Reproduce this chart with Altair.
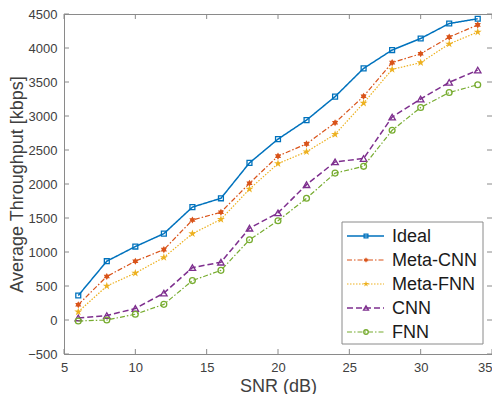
import altair as alt
import pandas as pd

# ---------------- data ----------------
snr = [6, 8, 10, 12, 14, 16, 18, 20, 22, 24, 26, 28, 30, 32, 34]
ideal = [360, 865, 1080, 1270, 1660, 1790, 2310, 2660, 2940, 3285, 3700, 3970, 4140, 4360, 4430]
meta_cnn = [225, 640, 865, 1035, 1470, 1585, 2010, 2410, 2590, 2900, 3290, 3785, 3915, 4160, 4340]
meta_fnn = [120, 500, 690, 920, 1270, 1480, 1925, 2300, 2475, 2730, 3190, 3685, 3785, 4060, 4235]
cnn = [30, 65, 170, 395, 770, 850, 1350, 1575, 1990, 2325, 2375, 2985, 3250, 3495, 3675]
fnn = [-15, 0, 85, 230, 580, 730, 1180, 1460, 1790, 2160, 2260, 2790, 3125, 3345, 3460]

series_names = ["Ideal", "Meta-CNN", "Meta-FNN", "CNN", "FNN"]
series_values = [ideal, meta_cnn, meta_fnn, cnn, fnn]

x_ticks = [5, 10, 15, 20, 25, 30, 35]
y_ticks = [-500, 0, 500, 1000, 1500, 2000, 2500, 3000, 3500, 4000, 4500]
x_title = "SNR (dB)"
y_title = "Average Throughput [kbps]"

# ---------------- styles ----------------
W, H = 428, 340
AX = "#8a8a8a"
TXT = "#404040"
FONT = "Liberation Sans"

PENTA = ("M0,-1 L0.225,-0.309 L0.951,-0.309 L0.363,0.118 L0.588,0.809 L0,0.382 "
         "L-0.588,0.809 L-0.363,0.118 L-0.951,-0.309 L-0.225,-0.309 Z")
HEXA = ("M0,-1 L0.289,-0.5 L0.866,-0.5 L0.577,0 L0.866,0.5 L0.289,0.5 L0,1 "
        "L-0.289,0.5 L-0.866,0.5 L-0.577,0 L-0.866,-0.5 L-0.289,-0.5 Z")

styles = {
    "Ideal":    dict(color="#0072BD", dash=[1, 0], shape="square", size=24, filled=False, lw=1.5),
    "Meta-CNN": dict(color="#D95319", dash=[5, 2, 1.5, 2], shape=HEXA, size=50, filled=True, lw=1.2),
    "Meta-FNN": dict(color="#EDB120", dash=[1.5, 1.5], shape=PENTA, size=70, filled=True, lw=1.2),
    "CNN":      dict(color="#7E2F8E", dash=[6, 3], shape="triangle-up", size=42, filled=False, lw=1.5),
    "FNN":      dict(color="#77AC30", dash=[5, 2, 1.5, 2], shape="circle", size=34, filled=False, lw=1.2),
}

xscale = alt.Scale(domain=[5, 35], nice=False)
yscale = alt.Scale(domain=[-500, 4500], nice=False)

X_AX = alt.Axis(values=x_ticks, tickSize=0, labelPadding=7, titlePadding=3,
                format="d", labelOverlap=False,
                labelAlign={"condition": {"test": "datum.value >= 35", "value": "right"},
                            "value": "center"},
                domainColor=AX, labelColor=TXT, titleColor=TXT,
                labelFontSize=13, titleFontSize=18, labelFont=FONT, titleFont=FONT,
                titleFontWeight="normal", grid=False, labelFlush=False)
Y_AX = alt.Axis(values=y_ticks, tickSize=0, labelPadding=7, titlePadding=1,
                format="d", labelOverlap=False,
                domainColor=AX, labelColor=TXT, titleColor=TXT,
                labelFontSize=13, titleFontSize=18, labelFont=FONT, titleFont=FONT,
                titleFontWeight="normal", grid=False, labelFlush=False)


def X(field):
    return alt.X(field, scale=xscale, axis=X_AX, title=x_title)


def Y(field):
    return alt.Y(field, scale=yscale, axis=Y_AX, title=y_title)


layers = []
xt = pd.DataFrame({"x": x_ticks})
yt = pd.DataFrame({"y": y_ticks})

# inward ticks
for y0, y1 in [(H, H - 5), (0, 5)]:
    layers.append(alt.Chart(xt).mark_rule(color=AX, strokeWidth=1).encode(
        x=X("x:Q"), y=alt.value(y0), y2=alt.value(y1)))
for x0, x1 in [(0, 5), (W, W - 5)]:
    layers.append(alt.Chart(yt).mark_rule(color=AX, strokeWidth=1).encode(
        y=Y("y:Q"), x=alt.value(x0), x2=alt.value(x1)))

for name, vals in zip(series_names, series_values):
    st = styles[name]
    df = pd.DataFrame({"snr": snr, "thr": vals})
    enc = dict(x=X("snr:Q"), y=Y("thr:Q"))
    layers.append(alt.Chart(df).mark_line(color=st["color"], strokeDash=st["dash"],
                                          strokeWidth=st["lw"]).encode(**enc))
    layers.append(alt.Chart(df).mark_point(shape=st["shape"], size=st["size"],
                                           filled=st["filled"], color=st["color"],
                                           strokeWidth=1.3, opacity=1).encode(**enc))

# legend (manual, MATLAB style)
LX0, LX1, LY0, LY1 = 278, 419, 208, 330
layers.append(alt.Chart(pd.DataFrame({"a": [0]})).mark_rect(
    fill="white", stroke=AX, strokeWidth=1).encode(
    x=alt.value(LX0), x2=alt.value(LX1), y=alt.value(LY0), y2=alt.value(LY1)))
row_y = [222, 246, 270, 294, 318]
for name, ry in zip(series_names, row_y):
    st = styles[name]
    d1 = pd.DataFrame({"name": [name]})
    layers.append(alt.Chart(d1).mark_rule(color=st["color"], strokeDash=st["dash"],
                                          strokeWidth=st["lw"]).encode(
        x=alt.value(283), x2=alt.value(320), y=alt.value(ry)))
    layers.append(alt.Chart(d1).mark_point(shape=st["shape"], size=st["size"] * 0.6,
                                           filled=st["filled"], color=st["color"],
                                           strokeWidth=1.3, opacity=1).encode(
        x=alt.value(302), y=alt.value(ry)))
    layers.append(alt.Chart(d1).mark_text(align="left", baseline="middle", fontSize=18,
                                          font=FONT, color="#1a1a1a").encode(
        x=alt.value(328), y=alt.value(ry + 1), text="name:N"))

chart = alt.layer(*layers).properties(
    width=W, height=H,
    autosize=alt.AutoSizeParams(type="none"),
    padding={"left": 56, "top": 6, "right": 0, "bottom": 40},
).configure_view(stroke=AX, strokeWidth=1)

chart.save("out.html", embed_options={"renderer": "svg", "actions": False})
